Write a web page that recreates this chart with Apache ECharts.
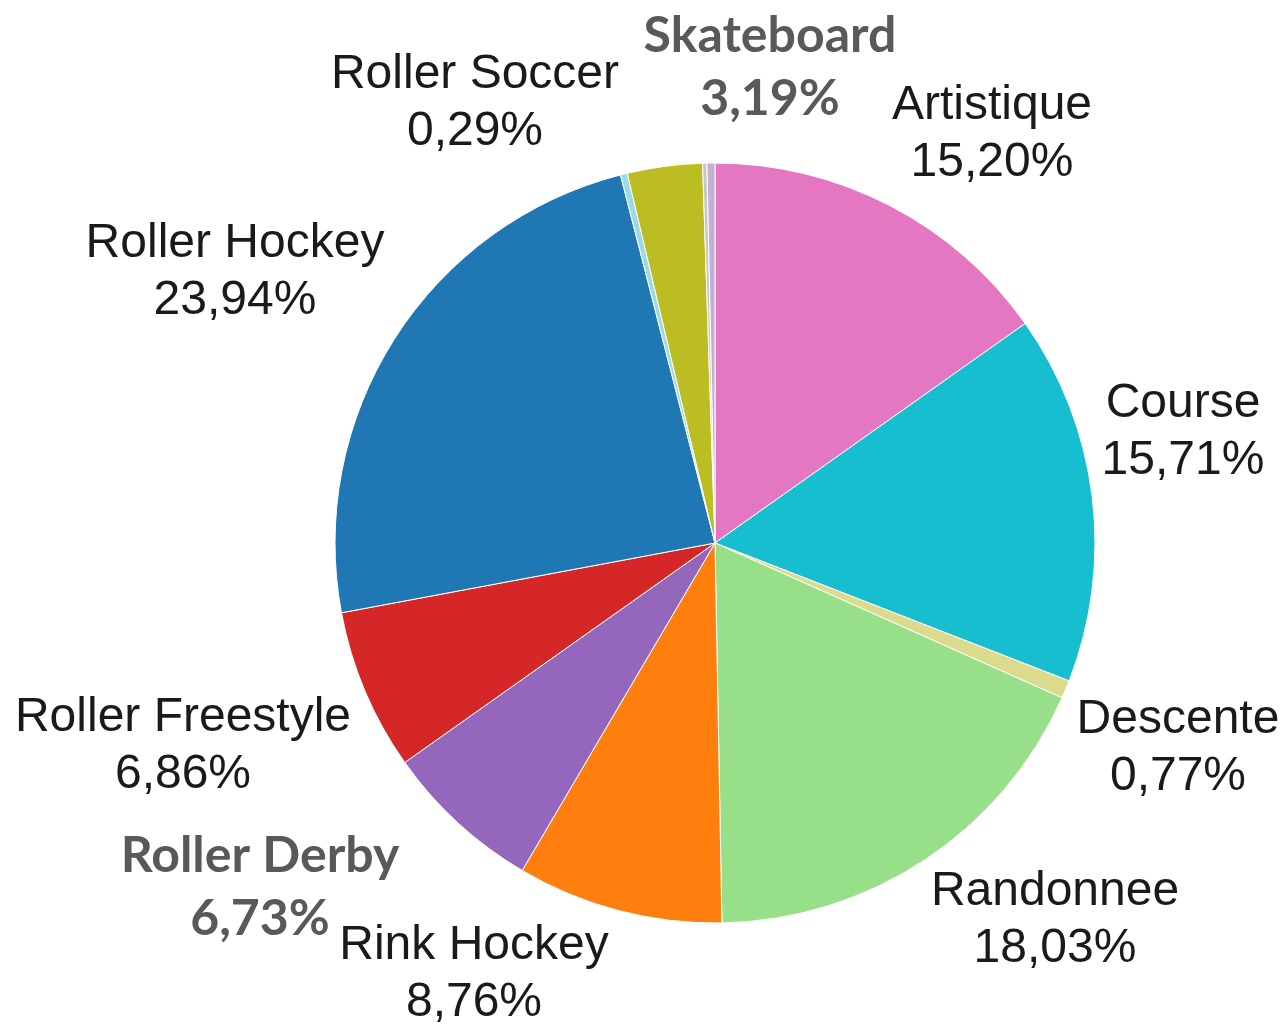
<!DOCTYPE html>
<html>
<head>
<meta charset="utf-8">
<script src="https://cdn.jsdelivr.net/npm/echarts@6/dist/echarts.min.js"></script>
<style>
  html, body { margin: 0; padding: 0; background: #fff; }
  #chart { width: 1287px; height: 1028px; }
</style>
</head>
<body>
<div id="chart"></div>
<script>
// data, clockwise from 12 o'clock
const names = ['Artistique', 'Course', 'Descente', 'Randonnee', 'Rink Hockey', 'Roller Derby',
  'Roller Freestyle', 'Roller Hockey', 'Roller Soccer', 'Skateboard', 'Autre 1', 'Autre 2']
const values = [15.20, 15.71, 0.77, 18.03, 8.76, 6.73, 6.86, 23.94, 0.29, 3.19, 0.18, 0.34]
const colors = ['#e377c2', '#17becf', '#dbdb8d', '#98df8a', '#ff7f0e', '#9467bd',
  '#d62728', '#1f77b4', '#9edae5', '#bcbd22', '#c7c7c7', '#c5b0d5']
const hiddenLabels = ['Autre 1', 'Autre 2']
const boldLabels = ['Skateboard', 'Roller Derby']

// where each label block is centred (px)
const labelPos = {
  'Artistique': [992, 134],
  'Course': [1183, 432],
  'Descente': [1178, 748],
  'Randonnee': [1055, 920],
  'Rink Hockey': [474, 974],
  'Roller Derby': [260, 887],
  'Roller Freestyle': [183, 746],
  'Roller Hockey': [235, 272],
  'Roller Soccer': [475, 103],
  'Skateboard': [770, 67]
}

const chart = echarts.init(document.getElementById('chart'))

const plainLabel = {
  show: true,
  position: 'outside',
  fontFamily: 'Liberation Sans, Arial',
  fontSize: 48,
  lineHeight: 57,
  color: '#1a1a1a',
  align: 'center',
  formatter: p => p.name + '\n' + p.value.toFixed(2).replace('.', ',') + '%'
}

const boldLabel = Object.assign({}, plainLabel, {
  fontFamily: 'Lato',
  fontWeight: 'bold',
  fontSize: 50,
  lineHeight: 63,
  color: '#595959'
})

const data = names.map((n, i) => ({
  name: n,
  value: values[i],
  itemStyle: { color: colors[i] },
  label: hiddenLabels.includes(n) ? { show: false } : (boldLabels.includes(n) ? boldLabel : plainLabel)
}))

chart.setOption({
  backgroundColor: '#fff',
  animation: false,
  series: [
    {
      type: 'pie',
      center: [715, 543],
      radius: 380,
      startAngle: 90,
      clockwise: true,
      avoidLabelOverlap: false,
      itemStyle: { borderColor: '#fff', borderWidth: 1 },
      labelLine: { show: false },
      labelLayout: params => {
        const pos = labelPos[names[params.dataIndex]]
        if (!pos) return {}
        return { x: pos[0], y: pos[1], align: 'center', verticalAlign: 'middle' }
      },
      data: data
    }
  ]
})

window.addEventListener('resize', () => chart.resize())
</script>
</body>
</html>
